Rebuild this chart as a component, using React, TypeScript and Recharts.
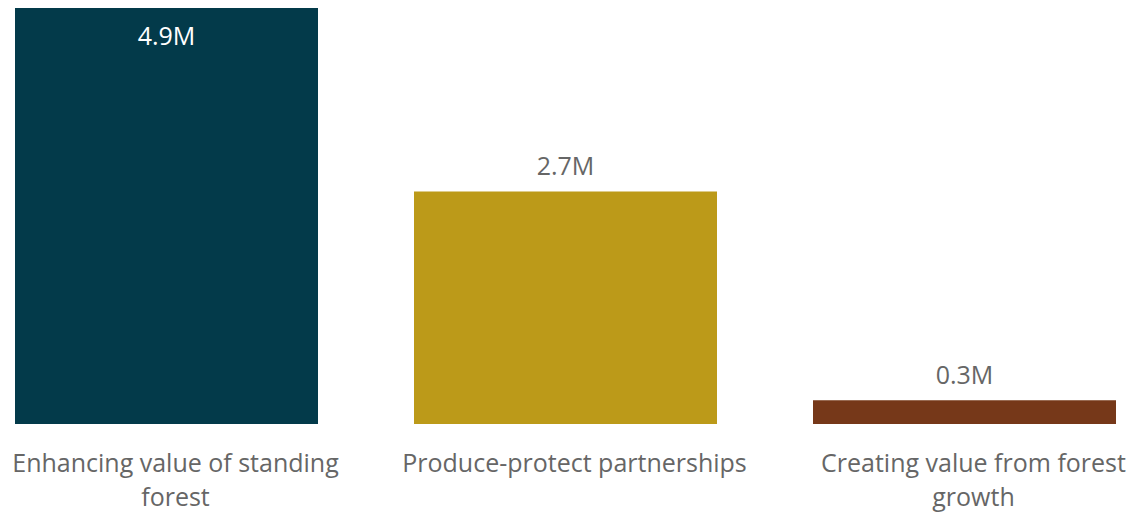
import React from 'react';
import { BarChart, Bar, XAxis, YAxis, Cell, LabelList } from 'recharts';

const categories = [
  'Enhancing value of standing forest',
  'Produce-protect partnerships',
  'Creating value from forest growth',
];
const values = [4.9, 2.74, 0.28]; // millions
const colors = ['#033a4a', '#bc9a19', '#763819'];

const data = categories.map((name, i) => ({ name, value: values[i] }));

const FONT = '"Open Sans", "Noto Sans", sans-serif';
const TICK_SIZE = 25;
const MAX_LINE = 370;

// word wrap using canvas text measuring
const wrapWords = (text: string): string[] => {
  const ctx = document.createElement('canvas').getContext('2d');
  if (!ctx) return [text];
  ctx.font = `${TICK_SIZE}px ${FONT}`;
  const lines: string[] = [];
  let cur = '';
  text.split(' ').forEach((w) => {
    const next = cur ? `${cur} ${w}` : w;
    if (cur && ctx.measureText(next).width > MAX_LINE) {
      lines.push(cur);
      cur = w;
    } else {
      cur = next;
    }
  });
  if (cur) lines.push(cur);
  return lines;
};

const CategoryTick = (props: any) => {
  const { x, y, payload } = props;
  const lines = wrapWords(String(payload.value));
  const tx = x + 9;
  return (
    <text
      x={tx}
      y={y + 40}
      textAnchor="middle"
      fontSize={TICK_SIZE}
      fontFamily={FONT}
      fill="#666666"
    >
      {lines.map((l, i) => (
        <tspan key={i} x={tx} dy={i === 0 ? 0 : 34}>
          {l}
        </tspan>
      ))}
    </text>
  );
};

const ValueLabel = (props: any) => {
  const { x, y, width, value } = props;
  const cx = x + width / 2;
  const inside = y < 40;
  return (
    <text
      x={cx}
      y={inside ? y + 27 : y - 26}
      textAnchor="middle"
      dominantBaseline="central"
      fontSize={25}
      fontFamily={FONT}
      fill={inside ? '#ffffff' : '#666666'}
    >
      {`${Number(value).toFixed(1)}M`}
    </text>
  );
};

const App: React.FC = () => {
  return (
    <div style={{ position: 'absolute', left: 0, top: 0, width: 1139, height: 514, background: '#ffffff' }}>
      <BarChart
        width={1139}
        height={514}
        data={data}
        margin={{ top: 8, right: -25, left: -33, bottom: 0 }}
        barCategoryGap={48}
        style={{ overflow: 'visible' }}
      >
        <XAxis
          dataKey="name"
          axisLine={false}
          tickLine={false}
          height={90}
          interval={0}
          tick={<CategoryTick />}
        />
        <YAxis hide domain={[0, 4.9]} />
        <Bar dataKey="value" isAnimationActive={false}>
          {data.map((d, i) => (
            <Cell key={d.name} fill={colors[i]} />
          ))}
          <LabelList dataKey="value" content={<ValueLabel />} />
        </Bar>
      </BarChart>
    </div>
  );
};

export default App;
